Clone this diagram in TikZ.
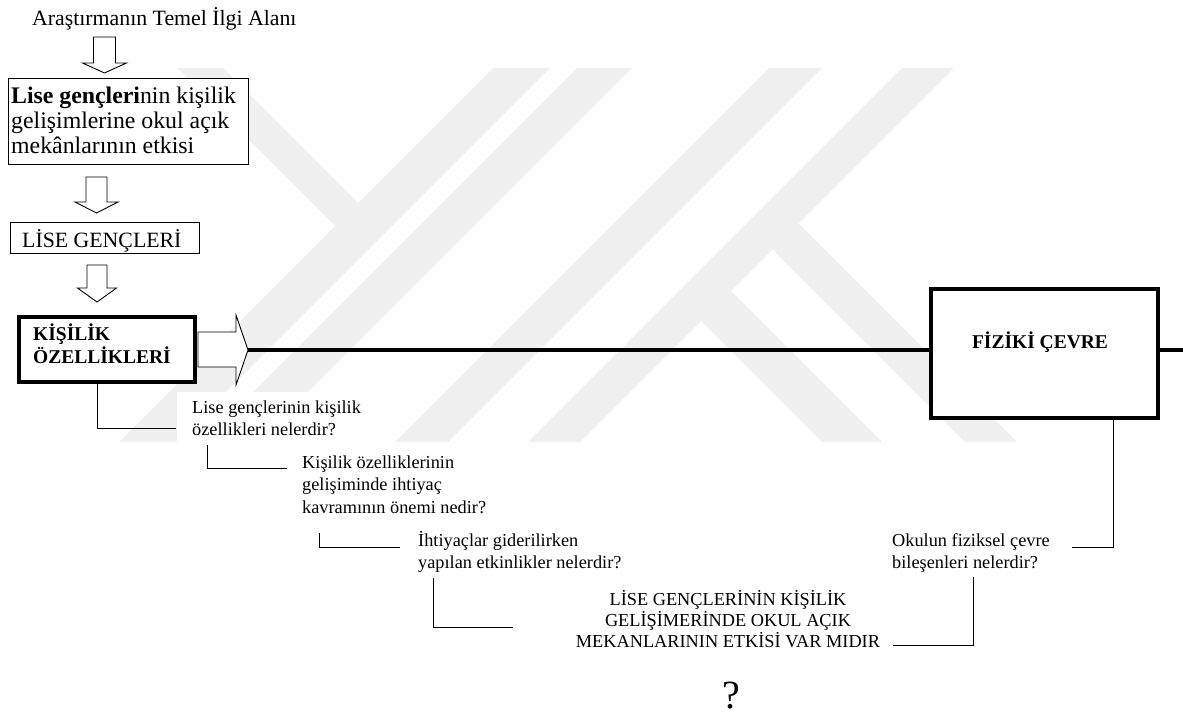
\documentclass[tikz,border=0pt]{standalone}
\usepackage{fontspec}
\setmainfont{Liberation Serif}
\begin{document}
\begin{tikzpicture}[x=1pt,y=-1pt,
  ln/.style={line width=0.9pt},
  blk/.style={draw, line width=0.9pt, fill=white, line join=miter},
  box/.style={draw, line width=1.1pt, fill=white, inner sep=0pt, anchor=north west},
  tbox/.style={draw, line width=3.6pt, fill=white, inner sep=0pt, anchor=north west},
  txt/.style={inner sep=0pt, anchor=base west, align=left},
  big/.style={font=\fontsize{21.8}{25}\selectfont},
  sml/.style={font=\fontsize{18.3}{22}\selectfont},
  bld/.style={font=\fontsize{19.5}{23}\selectfont\bfseries},
  wm/.style={fill=black!6}]
\useasboundingbox (0,0) rectangle (1183,715);
% watermark
\begin{scope}
\clip (0,68) rectangle (1183,442);
\fill[wm] (177,68) -- (223,68) -- (358,203) -- (335,226) -- cycle;
\fill[wm] (493,68) -- (550,68) -- (176,442) -- (119,442) -- cycle;
\fill[wm] (577,68) -- (632,68) -- (258,442) -- (203,442) -- cycle;
\fill[wm] (769,68) -- (822,68) -- (448,442) -- (395,442) -- cycle;
\fill[wm] (902,68) -- (954,68) -- (580,442) -- (528,442) -- cycle;
\fill[wm] (798.5,223.5) -- (1017,442) -- (965,442) -- (772.5,249.5) -- cycle;
\fill[wm] (731,291) -- (882,442) -- (822,442) -- (701,321) -- cycle;
\end{scope}
\fill[white] (177,392) rectangle (352,445);

% boxes
\node[box, minimum width=240pt, minimum height=86pt] (b1) at (8,78) {};
\node[box, minimum width=189pt, minimum height=31pt] (b2) at (10,222) {};
\node[tbox, minimum width=176pt, minimum height=65pt] (b3) at (17,315) {};
\node[tbox, minimum width=227pt, minimum height=129pt] (b4) at (929,287) {};

% hollow arrows
\newcommand\hollowdown[6]{%
  \draw[blk] ({#1-#5},#2) -- ({#1+#5},#2) -- ({#1+#5},#3) -- ({#1+#6},#3) -- (#1,#4) -- ({#1-#6},#3) -- ({#1-#5},#3) -- cycle;}
\hollowdown{104.5}{37}{63}{73}{11}{22}
\hollowdown{96.5}{177}{202}{213}{10.5}{21.5}
\hollowdown{97}{265}{288}{302}{10}{19.5}
\draw[blk] (198,332) -- (236,332) -- (236,315) -- (248,350) -- (236,385) -- (236,367) -- (198,367) -- cycle;
\coordinate (tip) at (248,350);

% texts (anchor = baseline of last line)
\node[txt, big] (title) at (32,25) {Araştırmanın Temel İlgi Alanı};
\node[txt, font=\fontsize{23.8}{25}\selectfont] (b1t) at (11,153) {\textbf{Lise gençleri}nin kişilik\\gelişimlerine okul açık\\mekânlarının etkisi};
\node[txt, big] (b2t) at (22,247) {LİSE GENÇLERİ};
\node[txt, bld] (b3t) at (33,363) {KİŞİLİK\\ÖZELLİKLERİ};
\node[inner sep=0pt, anchor=base, bld] (b4t) at (1040,348) {FİZİKİ ÇEVRE};
\node[txt, sml] (q1) at (192,435) {Lise gençlerinin kişilik\\özellikleri nelerdir?};
\node[txt, font=\fontsize{18.3}{22.5}\selectfont] (q2) at (302,513) {Kişilik özelliklerinin\\gelişiminde ihtiyaç\\kavramının önemi nedir?};
\node[txt, sml] (q3) at (418,568) {İhtiyaçlar giderilirken\\yapılan etkinlikler nelerdir?};
\node[txt, sml] (q4) at (892,568) {Okulun fiziksel çevre\\bileşenleri nelerdir?};
\node[inner sep=0pt, anchor=base, align=center, font=\fontsize{18.3}{21}\selectfont] (q5) at (728,647) {LİSE GENÇLERİNİN KİŞİLİK\\GELİŞİMERİNDE OKUL AÇIK\\MEKANLARININ ETKİSİ VAR MIDIR};
\node[inner sep=0pt, anchor=base, font=\fontsize{40}{40}\selectfont] (qm) at (731,708) {?};

% main line
\draw[line width=3.2pt] (tip) -- (b4.west |- tip);
\coordinate (rend) at (1183,350);
\draw[line width=3.2pt] (b4.east |- rend) -- (rend);

% brackets
\coordinate (k1) at (97,428);
\coordinate (k1e) at (176,428);
\draw[ln] (b3.south -| k1) -- (k1) -- (k1e);
\draw[ln] (207,445) -- (207,468.5) -- (287,468.5);
\draw[ln] (319,533) -- (319,547.5) -- (400,547.5);
\draw[ln] (433,578) -- (433,627) -- (513,627);
\coordinate (k4) at (1113,547.5);
\draw[ln] (b4.south -| k4) -- (k4) -- (1072,547.5);
\draw[ln] (973,577) -- (973,645.5) -- (893,645.5);
\end{tikzpicture}
\end{document}
